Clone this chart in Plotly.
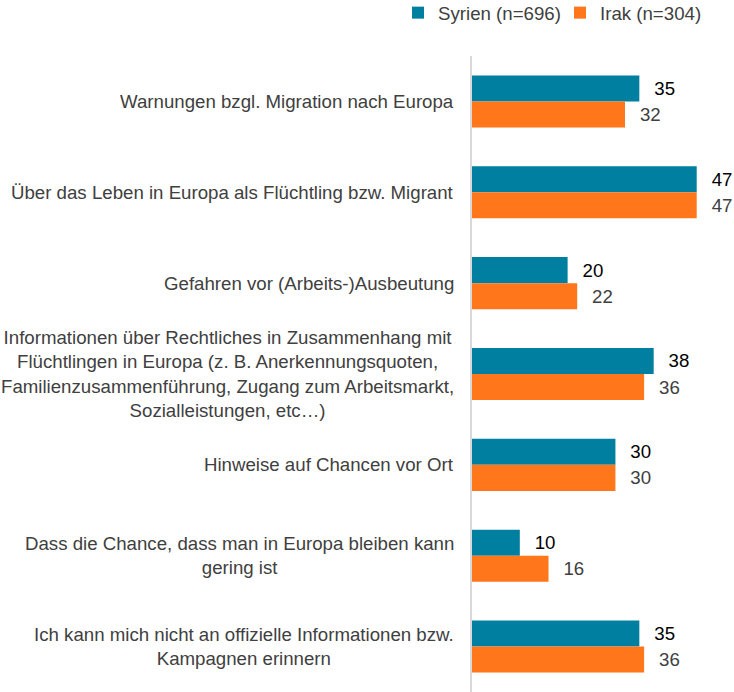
import plotly.graph_objects as go

categories = [
    "Warnungen bzgl. Migration nach Europa",
    "Über das Leben in Europa als Flüchtling bzw. Migrant",
    "Gefahren vor (Arbeits-)Ausbeutung",
    "Informationen über Rechtliches in Zusammenhang mit<br>Flüchtlingen in Europa (z. B. Anerkennungsquoten,<br>Familienzusammenführung, Zugang zum Arbeitsmarkt,<br>Sozialleistungen, etc…)",
    "Hinweise auf Chancen vor Ort",
    "Dass die Chance, dass man in Europa bleiben kann<br>gering ist",
    "Ich kann mich nicht an offizielle Informationen bzw.<br>Kampagnen erinnern",
]
syrien = [35, 47, 20, 38, 30, 10, 35]
irak = [32, 47, 22, 36, 30, 16, 36]
series_names = ["Syrien (n=696)", "Irak (n=304)"]

FONT = "Liberation Sans, Arial, sans-serif"
FS = 18.67
TEAL = "#007FA0"
ORANGE = "#FF761B"

W, H = 734, 692

fig = go.Figure()
fig.add_trace(go.Bar(
    y=categories, x=syrien, name=series_names[0], orientation="h",
    marker=dict(color=TEAL, line=dict(width=0)),
    texttemplate="  \u200a%{x}", textposition="outside",
    textfont=dict(family=FONT, size=FS, color="#000000"),
    constraintext="none", cliponaxis=False, legend="legend",
))
fig.add_trace(go.Bar(
    y=categories, x=irak, name=series_names[1], orientation="h",
    marker=dict(color=ORANGE, line=dict(width=0)),
    texttemplate="  \u200a%{x}", textposition="outside",
    textfont=dict(family=FONT, size=FS, color="#404040"),
    constraintext="none", cliponaxis=False, legend="legend2",
))

for c in categories:
    fig.add_annotation(
        x=0, xref="paper", y=c, yref="y", text=c, showarrow=False,
        xanchor="right", align="center", xshift=-16,
        font=dict(family=FONT, size=FS, color="#404040"),
    )

legend_common = dict(
    orientation="h", xref="container", yref="container",
    xanchor="left", yanchor="middle", y=1 - 13 / H,
    font=dict(family=FONT, size=FS, color="#404040"),
    itemwidth=30, bgcolor="rgba(0,0,0,0)",
)

fig.update_layout(
    width=W, height=H,
    margin=dict(l=472, r=0, t=56, b=0),
    paper_bgcolor="white", plot_bgcolor="white",
    barmode="group", bargap=0.427, bargroupgap=0,
    font=dict(family=FONT, size=FS, color="#404040"),
    showlegend=True,
    legend=dict(x=398 / W, **legend_common),
    legend2=dict(x=560 / W, **legend_common),
    xaxis=dict(range=[0, 54.8], visible=False, fixedrange=True),
    yaxis=dict(
        autorange="reversed", showticklabels=False, showgrid=False,
        showline=True, linecolor="#D9D9D9", linewidth=1.5, ticks="",
        zeroline=False,
    ),
)

fig.write_html(
    "out.html",
    config={"displayModeBar": False},
    post_script="document.body.style.margin='0';document.body.style.overflow='hidden';",
)
